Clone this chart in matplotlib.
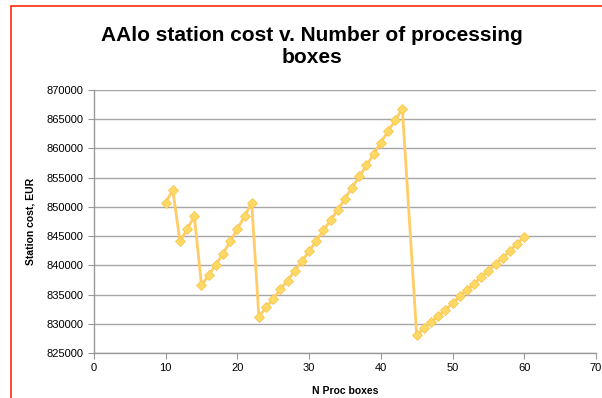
import matplotlib
matplotlib.use("Agg")
import matplotlib.pyplot as plt
from matplotlib.patches import Rectangle

plt.rcParams['font.family'] = ['Liberation Sans', 'DejaVu Sans']

# Number of processing boxes and the station cost (EUR)
n_boxes = list(range(10, 44)) + list(range(45, 61))
cost = [850700, 852900, 844100, 846200, 848400, 836600, 838300, 840100,
        842000, 844100, 846200, 848400, 850700, 831200, 832800, 834300,
        835900, 837400, 839100, 840700, 842400, 844200, 846000, 847700,
        849500, 851400, 853300, 855200, 857100, 859000, 861000, 862900,
        864800, 866800,
        828100, 829200, 830300, 831300, 832400, 833500, 834700, 835800,
        836800, 838000, 839100, 840200, 841300, 842500, 843700, 844900]

x_ticks = list(range(0, 71, 10))
y_ticks = list(range(825000, 870001, 5000))

fig = plt.figure(figsize=(6.02, 3.98), dpi=100)
ax = fig.add_axes([0.156, 0.113, 0.834, 0.661])

# red frame round the chart (runs off the right and bottom edges)
fig.patches.append(Rectangle((0.018, -0.1), 1.2, 1.085, transform=fig.transFigure,
                             fill=False, edgecolor='#ff2a0a', linewidth=1.2))

ax.plot(n_boxes, cost, color='#ffcc66', linewidth=2, marker='D', markersize=5.5,
        markerfacecolor='#ffd966', markeredgecolor='#f7c850', markeredgewidth=0.6,
        zorder=3)

ax.set_xlim(0, 70)
ax.set_ylim(825000, 870000)
ax.set_xticks(x_ticks)
ax.set_yticks(y_ticks)
ax.tick_params(labelsize=8, colors='#999999', labelcolor='black', length=4, width=0.8)
ax.grid(axis='y', color='#a6a6a6', linewidth=1)
ax.set_axisbelow(True)
for s in ['top', 'right']:
    ax.spines[s].set_visible(False)
for s in ['left', 'bottom']:
    ax.spines[s].set_color('#999999')
    ax.spines[s].set_linewidth(1)

ax.set_xlabel('N Proc boxes', fontsize=7.5, fontweight='bold', labelpad=9)
ax.set_ylabel('Station cost, EUR', fontsize=7.5, fontweight='bold', labelpad=8)
fig.text(0.518, 0.884, 'AAlo station cost v. Number of processing\nboxes',
         ha='center', va='center', fontsize=15, fontweight='bold', linespacing=1.2)

fig.savefig('out.png', dpi=100)
